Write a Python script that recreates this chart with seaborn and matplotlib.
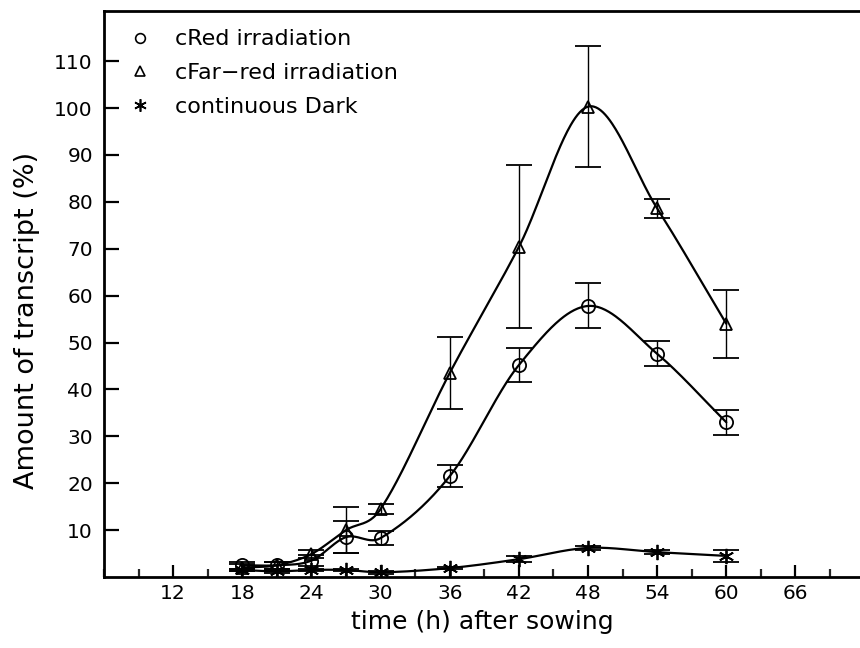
import numpy as np
import pandas as pd
import matplotlib
matplotlib.use('Agg')
import matplotlib.pyplot as plt
from matplotlib.lines import Line2D
from matplotlib.ticker import MultipleLocator
import seaborn as sns

sns.set_style('ticks')
plt.rcParams['font.family'] = ['DejaVu Sans']

hours = [18, 21, 24, 27, 30, 36, 42, 48, 54, 60]

red = [2.5, 2.5, 3.5, 8.5, 8.3, 21.5, 45.2, 57.8, 47.6, 33.0]
red_err = [0.8, 0.8, 1.2, 3.4, 1.5, 2.3, 3.7, 4.8, 2.7, 2.7]

farred = [2.0, 2.5, 4.9, 10.0, 14.5, 43.5, 70.4, 100.3, 78.6, 54.0]
farred_err = [0.8, 0.8, 0.8, 4.9, 1.0, 7.7, 17.4, 12.9, 2.0, 7.3]

dark = [1.5, 1.2, 1.5, 1.5, 1.0, 1.9, 3.8, 6.2, 5.3, 4.5]
dark_err = [0.3, 0.3, 0.3, 0.3, 0.3, 0.3, 0.7, 0.5, 0.4, 1.2]

labels = ['cRed irradiation', 'cFar\u2212red irradiation', 'continuous Dark']
x_ticks = [12, 18, 24, 30, 36, 42, 48, 54, 60, 66]
y_ticks = [10, 20, 30, 40, 50, 60, 70, 80, 90, 100, 110]


def smooth_curve(x, y, n=60):
    # cubic hermite with catmull-rom style tangents, just for drawing
    x = np.asarray(x, float)
    y = np.asarray(y, float)
    k = len(x)
    m = np.zeros(k)
    m[1:-1] = (y[2:] - y[:-2]) / (x[2:] - x[:-2])
    m[0] = (y[1] - y[0]) / (x[1] - x[0])
    m[-1] = (y[-1] - y[-2]) / (x[-1] - x[-2])
    xs_all, ys_all = [], []
    for i in range(k - 1):
        h = x[i + 1] - x[i]
        t = np.linspace(0, 1, n, endpoint=(i == k - 2))
        h00 = 2 * t**3 - 3 * t**2 + 1
        h10 = t**3 - 2 * t**2 + t
        h01 = -2 * t**3 + 3 * t**2
        h11 = t**3 - t**2
        xs_all.append(x[i] + t * h)
        ys_all.append(h00 * y[i] + h10 * h * m[i] + h01 * y[i + 1] + h11 * h * m[i + 1])
    return np.concatenate(xs_all), np.concatenate(ys_all)


fig = plt.figure(figsize=(8.6, 6.48), dpi=100)
ax = fig.add_axes([104 / 860, 71 / 648, 756 / 860, 566 / 648])

series = [
    (red, red_err, 'o', 9.5),
    (farred, farred_err, '^', 8.5),
    (dark, dark_err, (6, 2, 0), 11),
]

curves = []
for (vals, errs, m, ms), lab in zip(series, labels):
    xs, ys = smooth_curve(hours, vals)
    curves.append(pd.DataFrame({'time': xs, 'amount': ys, 'series': lab}))
    ax.errorbar(hours, vals, yerr=errs, fmt='none', ecolor='black',
                elinewidth=1.0, capsize=9.5, capthick=1.3, zorder=2)
    ax.plot(hours, vals, linestyle='none', marker=m, markersize=ms,
            markerfacecolor='none', markeredgecolor='black',
            markeredgewidth=1.3, zorder=4)

curve_df = pd.concat(curves, ignore_index=True)
sns.lineplot(data=curve_df, x='time', y='amount', units='series',
             estimator=None, color='black', linewidth=1.6, ax=ax,
             legend=False, zorder=3, sort=False)

ax.set_xlim(6, 71.6)
ax.set_ylim(0, 120.7)
ax.set_xticks(x_ticks)
ax.xaxis.set_minor_locator(MultipleLocator(3))
ax.set_yticks(y_ticks)
ax.tick_params(axis='both', which='major', direction='in', width=1.6,
               labelsize=14.5, color='black', labelcolor='black')
ax.tick_params(axis='x', which='major', length=9, pad=5)
ax.tick_params(axis='y', which='major', length=11, pad=8)
ax.tick_params(axis='x', which='minor', direction='in', length=5.5, width=1.6)

for side in ['left', 'bottom', 'top']:
    ax.spines[side].set_linewidth(2.0)
    ax.spines[side].set_color('black')
ax.spines['right'].set_visible(False)

ax.set_xlabel('time (h) after sowing', fontsize=18, labelpad=5, color='black')
ax.set_ylabel('Amount of transcript (%)', fontsize=19.5, color='black')
ax.yaxis.set_label_coords(-0.085, 0.454)

handles = [
    Line2D([], [], linestyle='none', marker='o', markersize=7,
           markerfacecolor='none', markeredgecolor='black', markeredgewidth=1.2),
    Line2D([], [], linestyle='none', marker='^', markersize=6.5,
           markerfacecolor='none', markeredgecolor='black', markeredgewidth=1.2),
    Line2D([], [], linestyle='none', marker=(6, 2, 0), markersize=9,
           markeredgecolor='black', markeredgewidth=1.2),
]
leg = ax.legend(handles, labels, loc='upper left', bbox_to_anchor=(0.0, 1.003),
                frameon=False, fontsize=16, handletextpad=0.9, labelspacing=0.62,
                handlelength=1.4)
for t in leg.get_texts():
    t.set_color('black')

fig.savefig('out.png', dpi=100)
